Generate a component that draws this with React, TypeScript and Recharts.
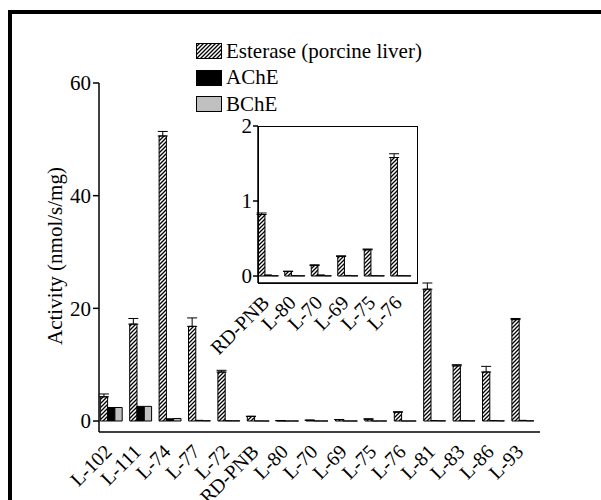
import React from "react";
import { BarChart, Bar, XAxis, YAxis, ErrorBar, Legend } from "recharts";

// substrates, in plotting order
const categories = [
  "L-102", "L-111", "L-74", "L-77", "L-72", "RD-PNB", "L-80", "L-70",
  "L-69", "L-75", "L-76", "L-81", "L-83", "L-86", "L-93",
];
// activity, nmol/s/mg
const esterase = [4.3, 17.2, 50.6, 16.8, 8.7, 0.82, 0.06, 0.14, 0.26, 0.35, 1.58, 23.4, 9.8, 8.7, 18.0];
const esteraseErr = [0.5, 1.0, 0.8, 1.5, 0.3, 0.02, 0.005, 0.01, 0.01, 0.01, 0.05, 1.1, 0.2, 1.0, 0.2];
const ache = [2.4, 2.6, 0.4, 0.12, 0.05, 0.015, 0.005, 0.015, 0.008, 0.005, 0.005, 0.08, 0.06, 0.08, 0.12];
const bche = [2.4, 2.6, 0.45, 0.05, 0.04, 0.004, 0.004, 0.004, 0.004, 0.004, 0.004, 0.04, 0.04, 0.04, 0.04];

const mainTicks = [0, 20, 40, 60];
const insetTicks = [0, 1, 2];
const insetNames = ["RD-PNB", "L-80", "L-70", "L-69", "L-75", "L-76"];

const legendItems = [
  { label: "Esterase (porcine liver)", kind: "hatch" },
  { label: "AChE", kind: "black" },
  { label: "BChE", kind: "grey" },
];

const rows = categories.map((name, i) => ({
  name,
  est: esterase[i],
  estErr: [0, esteraseErr[i]],
  ache: ache[i],
  bche: bche[i],
}));
const insetRows = rows.filter((r) => insetNames.includes(r.name));

const FONT = "'Liberation Serif', 'Times New Roman', serif";
const GREY = "#c0c0c0";

function Hatch({ id }: { id: string }) {
  return (
    <defs>
      <pattern id={id} patternUnits="userSpaceOnUse" width="4" height="4">
        <rect width="4" height="4" fill="#fff" />
        <path d="M-1,1 l2,-2 M0,4 l4,-4 M3,5 l2,-2" stroke="#000" strokeWidth="1.3" />
      </pattern>
    </defs>
  );
}

function SlantTick(props: any) {
  const { x, y, payload } = props;
  const px = x + 2;
  const py = y + 21;
  return (
    <text
      x={px}
      y={py}
      transform={`rotate(-45, ${px}, ${py})`}
      textAnchor="end"
      fontFamily={FONT}
      fontSize={20}
      fill="#000"
    >
      {payload.value}
    </text>
  );
}

function LegendBox() {
  return (
    <div style={{ fontFamily: FONT, fontSize: 21, color: "#000" }}>
      {legendItems.map((it) => (
        <div key={it.label} style={{ display: "flex", alignItems: "center", height: 26.5 }}>
          <svg width={27} height={16} style={{ marginRight: 3 }}>
            <Hatch id="hatchLegend" />
            <rect
              x={0.5}
              y={0.5}
              width={25}
              height={15}
              fill={it.kind === "hatch" ? "url(#hatchLegend)" : it.kind === "black" ? "#000" : GREY}
              stroke="#000"
              strokeWidth={1}
            />
          </svg>
          <span style={{ lineHeight: 1 }}>{it.label}</span>
        </div>
      ))}
    </div>
  );
}

const tickStyle = { fontFamily: FONT, fontSize: 21, fill: "#000" };

export default function App() {
  return (
    <div style={{ position: "fixed", left: 0, top: 0, width: 601, height: 500, background: "#fff" }}>
      <div
        style={{
          position: "absolute",
          left: 8,
          top: 10,
          width: 601,
          height: 500,
          borderTop: "4px solid #000",
          borderLeft: "4px solid #000",
        }}
      />

      {/* main chart */}
      <div style={{ position: "absolute", left: 0, top: 0 }}>
        <BarChart
          width={601}
          height={500}
          data={rows}
          margin={{ top: 83, right: 61, bottom: 0, left: 59 }}
          barGap={0}
          barCategoryGap={0}
        >
          <Hatch id="hatchMain" />
          <XAxis
            dataKey="name"
            interval={0}
            tickLine={false}
            tickSize={0}
            tickMargin={0}
            tick={<SlantTick />}
            axisLine={{ stroke: "#000", strokeWidth: 1.5 }}
            padding={{ left: -2.7, right: 2.7 }}
            height={68}
          />
          <YAxis
            width={40}
            domain={[-1.95, 60]}
            ticks={mainTicks}
            allowDataOverflow
            tick={tickStyle}
            tickSize={6}
            tickMargin={2}
            tickLine={{ stroke: "#000", strokeWidth: 1.5 }}
            axisLine={{ stroke: "#000", strokeWidth: 1.5 }}
          />
          <Legend
            layout="vertical"
            align="center"
            verticalAlign="middle"
            content={() => <LegendBox />}
            wrapperStyle={{ top: 38, left: 196, width: "auto", height: "auto" }}
          />
          <Bar dataKey="est" barSize={7.3} fill="url(#hatchMain)" stroke="#000" strokeWidth={1} isAnimationActive={false}>
            <ErrorBar dataKey="estErr" width={5} stroke="#000" strokeWidth={1} />
          </Bar>
          <Bar dataKey="ache" barSize={7.3} fill="#000" stroke="#000" strokeWidth={1} isAnimationActive={false} />
          <Bar dataKey="bche" barSize={7.3} fill={GREY} stroke="#000" strokeWidth={1} isAnimationActive={false} />
          <text
            x={55}
            y={256}
            transform="rotate(-90, 55, 256)"
            textAnchor="middle"
            dominantBaseline="central"
            fontFamily={FONT}
            fontSize={21}
            fill="#000"
          >
            Activity (nmol/s/mg)
          </text>
        </BarChart>
      </div>

      {/* inset: low-activity substrates */}
      <div style={{ position: "absolute", left: 0, top: 0 }}>
        <BarChart
          width={601}
          height={500}
          data={insetRows}
          margin={{ top: 126, right: 184, bottom: 0, left: 228 }}
          barGap={0}
          barCategoryGap={0}
        >
          <Hatch id="hatchInset" />
          <XAxis
            dataKey="name"
            interval={0}
            tickLine={false}
            tickSize={0}
            tickMargin={0}
            tick={<SlantTick />}
            axisLine={{ stroke: "#000", strokeWidth: 1.5 }}
            padding={{ left: -2.75, right: 2.75 }}
            height={217}
          />
          <YAxis
            width={30}
            domain={[-0.093, 2]}
            ticks={insetTicks}
            allowDataOverflow
            tick={tickStyle}
            tickSize={5}
            tickMargin={1}
            tickLine={{ stroke: "#000", strokeWidth: 1.5 }}
            axisLine={{ stroke: "#000", strokeWidth: 1.5 }}
          />
          <Bar dataKey="est" barSize={6.7} fill="url(#hatchInset)" stroke="#000" strokeWidth={1} isAnimationActive={false}>
            <ErrorBar dataKey="estErr" width={5} stroke="#000" strokeWidth={1} />
          </Bar>
          <Bar dataKey="ache" barSize={6.7} fill="#000" stroke="#000" strokeWidth={1} isAnimationActive={false} />
          <Bar dataKey="bche" barSize={6.7} fill={GREY} stroke="#000" strokeWidth={1} isAnimationActive={false} />
        </BarChart>
      </div>
      <div
        style={{
          position: "absolute",
          left: 257.5,
          top: 125.5,
          width: 160,
          height: 158,
          border: "1.5px solid #000",
          boxSizing: "border-box",
          pointerEvents: "none",
        }}
      />
    </div>
  );
}
